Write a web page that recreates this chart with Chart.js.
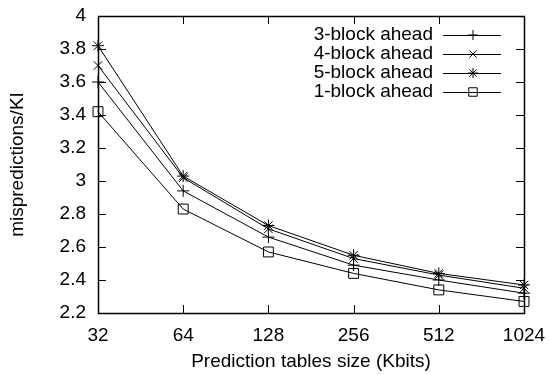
<!DOCTYPE html>
<html>
<head>
<meta charset="utf-8">
<script src="https://cdn.jsdelivr.net/npm/chart.js@4/dist/chart.umd.min.js"></script>
<style>
    html, body { margin: 0; padding: 0; background: #fff; }
    #wrap { width: 550px; height: 375px; }
</style>
</head>
<body>
<div id="wrap"><canvas id="chart"></canvas></div>
<script>
// table sizes in Kbits (log2 axis)
const tableSizes = [32, 64, 128, 256, 512, 1024];
const yTicks = [2.2, 2.4, 2.6, 2.8, 3, 3.2, 3.4, 3.6, 3.8, 4];

const seriesLabels = ['3-block ahead', '4-block ahead', '5-block ahead', '1-block ahead'];
const ahead3 = [3.60, 2.94, 2.66, 2.49, 2.40, 2.32];
const ahead4 = [3.70, 3.02, 2.71, 2.53, 2.43, 2.35];
const ahead5 = [3.82, 3.03, 2.73, 2.55, 2.44, 2.37];
const ahead1 = [3.42, 2.83, 2.57, 2.44, 2.34, 2.27];

const markers = ['cross', 'crossRot', 'star', 'rect'];
const markerSizes = [6, 6, 6, 7];
const fontFamily = '"Liberation Sans", Arial, Helvetica, sans-serif';
const fontSize = 19;

const toPoints = (values) => values.map((v, i) => ({ x: tableSizes[i], y: v }));

// gnuplot-like frame with inward ticks on all four sides
const framePlugin = {
    id: 'frame',
    afterDatasetsDraw(chart) {
        const { ctx, chartArea: a, scales } = chart;
        const len = 8;
        ctx.save();
        ctx.strokeStyle = '#000';
        ctx.lineWidth = 1;
        ctx.beginPath();
        scales.x.ticks.forEach((t) => {
            const px = Math.round(scales.x.getPixelForValue(t.value)) + 0.5;
            ctx.moveTo(px, a.bottom); ctx.lineTo(px, a.bottom - len);
            ctx.moveTo(px, a.top); ctx.lineTo(px, a.top + len);
        });
        scales.y.ticks.forEach((t) => {
            const py = Math.round(scales.y.getPixelForValue(t.value)) + 0.5;
            ctx.moveTo(a.left, py); ctx.lineTo(a.left + len, py);
            ctx.moveTo(a.right, py); ctx.lineTo(a.right - len, py);
        });
        ctx.stroke();
        ctx.lineWidth = 1.5;
        ctx.strokeRect(Math.round(a.left) + 0.5, Math.round(a.top) + 0.5,
            Math.round(a.right - a.left), Math.round(a.bottom - a.top));
        ctx.restore();
    },
};

// key drawn inside the plot, text right-aligned followed by line sample
const keyPlugin = {
    id: 'key',
    afterDraw(chart) {
        const { ctx, chartArea: a } = chart;
        ctx.save();
        ctx.font = fontSize + 'px ' + fontFamily;
        ctx.textAlign = 'right';
        ctx.textBaseline = 'middle';
        chart.data.datasets.forEach((ds, i) => {
            const y = a.top + 19 + i * 19;
            ctx.fillStyle = '#000';
            ctx.fillText(ds.label, a.right - 91, y);
            ctx.strokeStyle = '#000';
            ctx.lineWidth = 1;
            ctx.beginPath();
            ctx.moveTo(a.right - 81, y + 0.5);
            ctx.lineTo(a.right - 23, y + 0.5);
            ctx.stroke();
            ctx.fillStyle = 'rgba(0,0,0,0)';
            Chart.helpers.drawPoint(ctx, {
                pointStyle: ds.pointStyle,
                radius: ds.pointRadius - 1,
                rotation: 0,
                borderWidth: 1,
            }, a.right - 51, y);
        });
        ctx.restore();
    },
};

const allSeries = [ahead3, ahead4, ahead5, ahead1];

new Chart(document.getElementById('chart'), {
    type: 'line',
    data: {
        datasets: allSeries.map((values, i) => ({
            label: seriesLabels[i],
            data: toPoints(values),
            borderColor: '#000',
            borderWidth: 1,
            pointStyle: markers[i],
            pointRadius: markerSizes[i],
            pointBorderColor: '#000',
            pointBackgroundColor: 'rgba(0,0,0,0)',
            pointBorderWidth: 1,
            tension: 0,
            clip: false,
        })),
    },
    options: {
        responsive: true,
        maintainAspectRatio: false,
        animation: false,
        layout: { padding: { top: 16, right: 26, left: 6, bottom: 2 } },
        plugins: {
            legend: { display: false },
            tooltip: { enabled: false },
        },
        scales: {
            x: {
                type: 'logarithmic',
                min: 32,
                max: 1024,
                afterBuildTicks: (scale) => {
                    scale.ticks = tableSizes.map((v) => ({ value: v }));
                },
                grid: { display: false, drawTicks: false },
                border: { display: false },
                ticks: {
                    color: '#000',
                    padding: 11,
                    maxRotation: 0,
                    autoSkip: false,
                    font: { family: fontFamily, size: fontSize },
                    callback: (v) => String(v),
                },
                title: {
                    display: true,
                    text: 'Prediction tables size (Kbits)',
                    color: '#000',
                    padding: { top: 8, bottom: 0 },
                    font: { family: fontFamily, size: fontSize },
                },
                afterFit: (scale) => {
                    scale.height = 60;
                    scale.paddingLeft = 0;
                    scale.paddingRight = 0;
                },
            },
            y: {
                min: 2.2,
                max: 4,
                afterBuildTicks: (scale) => {
                    scale.ticks = yTicks.map((v) => ({ value: v }));
                },
                grid: { display: false, drawTicks: false },
                border: { display: false },
                ticks: {
                    color: '#000',
                    padding: 12,
                    font: { family: fontFamily, size: fontSize },
                    callback: (v) => String(Number(v.toFixed(1))),
                },
                title: {
                    display: true,
                    text: 'mispredictions/KI',
                    color: '#000',
                    padding: { top: 0, bottom: 6 },
                    font: { family: fontFamily, size: fontSize },
                },
                afterFit: (scale) => {
                    scale.width = 92;
                    scale.paddingTop = 0;
                    scale.paddingBottom = 0;
                },
            },
        },
    },
    plugins: [framePlugin, keyPlugin],
});
</script>
</body>
</html>
